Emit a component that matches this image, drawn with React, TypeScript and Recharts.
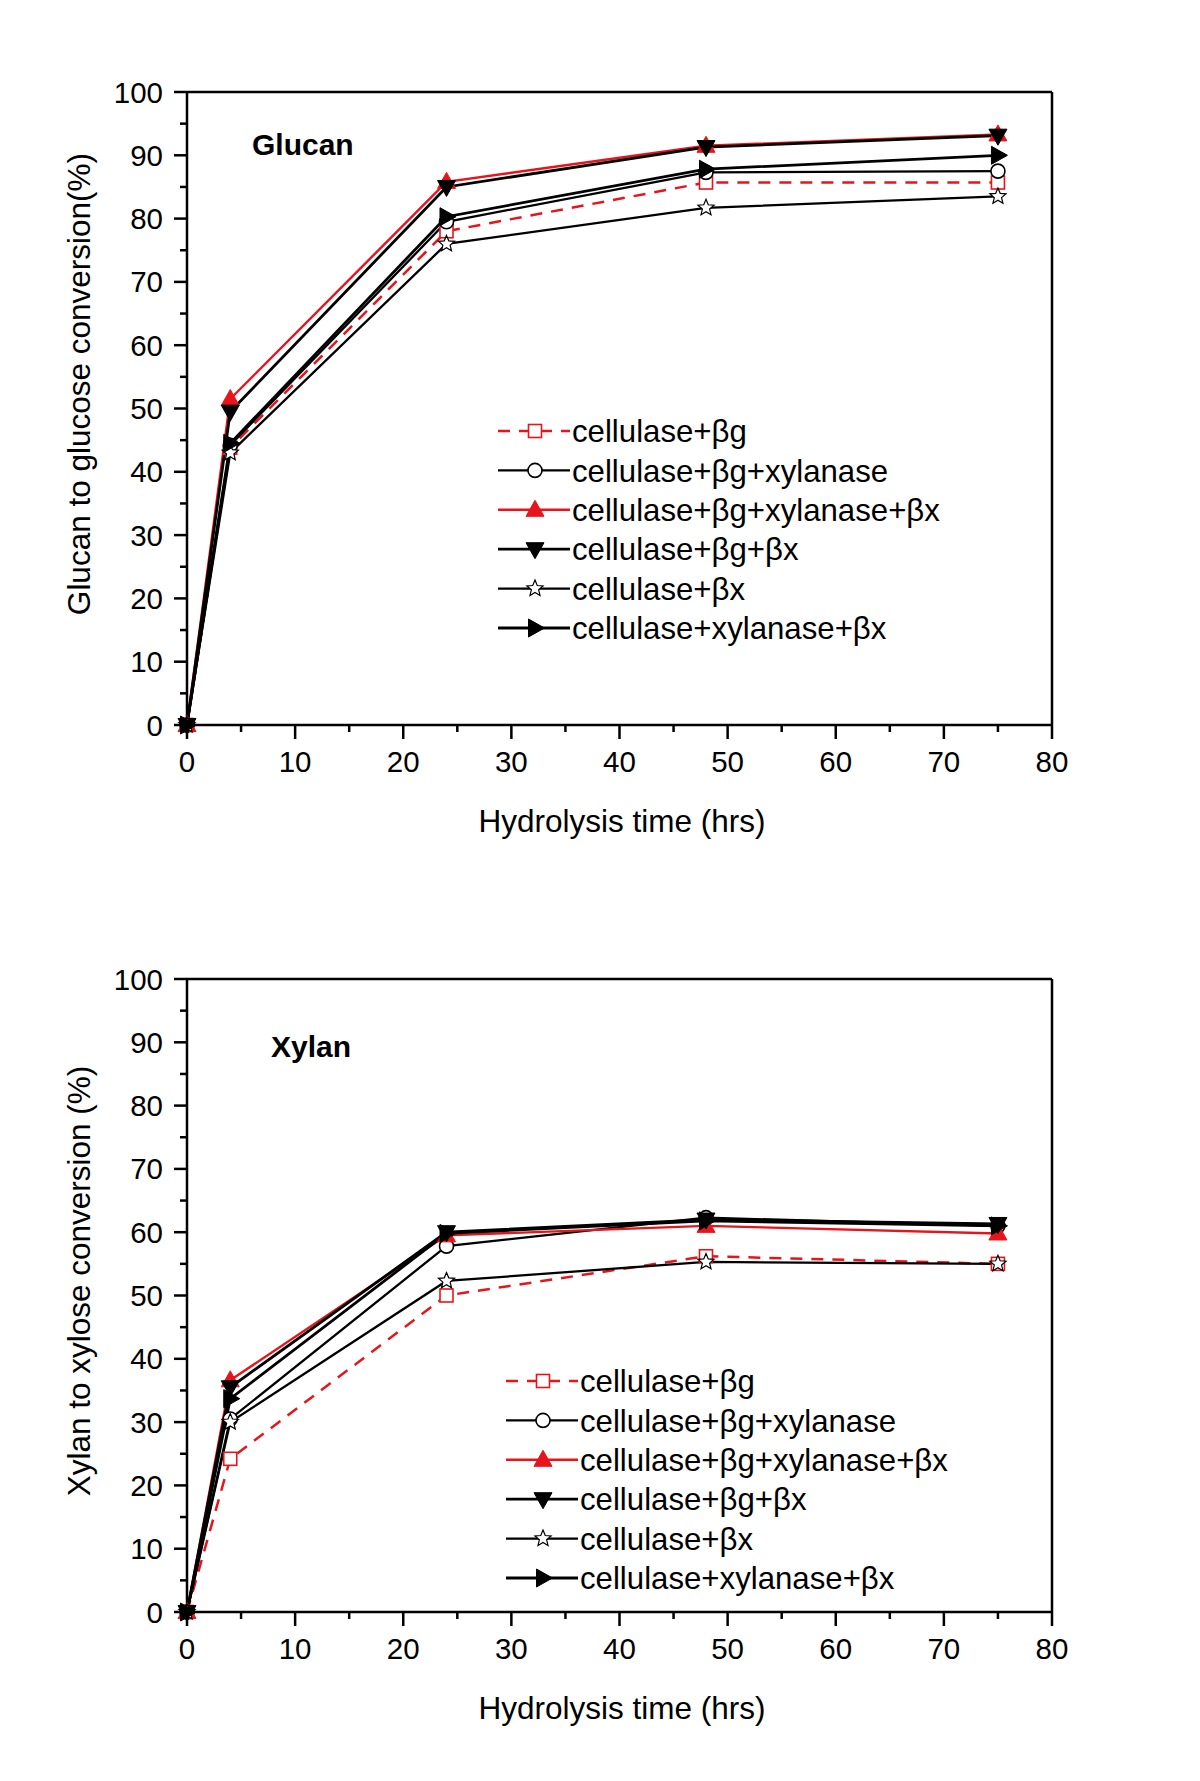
import React from 'react';
import { LineChart, Line, XAxis, YAxis, ReferenceLine, Legend } from 'recharts';

const hours = [0, 4, 24, 48, 75];
const seriesNames = [
  'cellulase+βg',
  'cellulase+βg+xylanase',
  'cellulase+βg+xylanase+βx',
  'cellulase+βg+βx',
  'cellulase+βx',
  'cellulase+xylanase+βx',
];

const glucanCelBg = [0, 43.8, 78, 85.7, 85.7];
const glucanCelBgXyl = [0, 44.2, 79.5, 87.3, 87.5];
const glucanCelBgXylBx = [0, 51.5, 85.8, 91.5, 93.3];
const glucanCelBgBx = [0, 49.5, 85.0, 91.3, 93.1];
const glucanCelBx = [0, 43.0, 76.0, 81.7, 83.5];
const glucanCelXylBx = [0, 44.5, 80.3, 87.8, 90.0];

const xylanCelBg = [0, 24.2, 50.0, 56.2, 55.0];
const xylanCelBgXyl = [0, 30.5, 57.8, 62.3, 61.0];
const xylanCelBgXylBx = [0, 36.6, 59.5, 61.0, 59.8];
const xylanCelBgBx = [0, 35.5, 60.0, 62.0, 61.3];
const xylanCelBx = [0, 30.0, 52.3, 55.3, 55.0];
const xylanCelXylBx = [0, 33.7, 59.8, 61.8, 61.0];

const yTicks = [0, 5, 10, 15, 20, 25, 30, 35, 40, 45, 50, 55, 60, 65, 70, 75, 80, 85, 90, 95, 100];
const xTicks = [0, 5, 10, 15, 20, 25, 30, 35, 40, 45, 50, 55, 60, 65, 70, 75, 80];

const FONT = '"Liberation Sans", Arial, Helvetica, sans-serif';
const RED = '#e8141c';
const BLACK = '#000';

type Style = { color: string; dash?: string; shape: string; fill: string; width: number };
const styles: Style[] = [
  { color: RED, dash: '12 9', shape: 'square', fill: '#fff', width: 2.5 },
  { color: BLACK, shape: 'circle', fill: '#fff', width: 2.3 },
  { color: RED, shape: 'up', fill: RED, width: 2.4 },
  { color: BLACK, shape: 'down', fill: BLACK, width: 2.8 },
  { color: BLACK, shape: 'star', fill: '#fff', width: 2.3 },
  { color: BLACK, shape: 'right', fill: BLACK, width: 2.8 },
];

const keys = ['s0', 's1', 's2', 's3', 's4', 's5'];

function buildRows(series: number[][]) {
  return hours.map((t, i) => {
    const row: any = { t };
    series.forEach((s, j) => {
      row[keys[j]] = s[i];
    });
    return row;
  });
}

const glucanRows = buildRows([glucanCelBg, glucanCelBgXyl, glucanCelBgXylBx, glucanCelBgBx, glucanCelBx, glucanCelXylBx]);
const xylanRows = buildRows([xylanCelBg, xylanCelBgXyl, xylanCelBgXylBx, xylanCelBgBx, xylanCelBx, xylanCelXylBx]);

function starPath(cx: number, cy: number, R: number) {
  const r = R * 0.45;
  let d = '';
  for (let i = 0; i < 10; i++) {
    const rad = i % 2 === 0 ? R : r;
    const a = -Math.PI / 2 + (i * Math.PI) / 5;
    d += (i === 0 ? 'M' : 'L') + (cx + rad * Math.cos(a)).toFixed(2) + ',' + (cy + rad * Math.sin(a)).toFixed(2);
  }
  return d + 'Z';
}

function Marker({ cx, cy, st }: { cx: number; cy: number; st: Style }) {
  const sw = 1.6;
  switch (st.shape) {
    case 'square':
      return <rect x={cx - 6.5} y={cy - 6.5} width={13} height={13} fill={st.fill} stroke={st.color} strokeWidth={sw} />;
    case 'circle':
      return <circle cx={cx} cy={cy} r={7} fill={st.fill} stroke={st.color} strokeWidth={sw} />;
    case 'up':
      return <path d={`M${cx},${cy - 9.5}L${cx + 9},${cy + 6.5}L${cx - 9},${cy + 6.5}Z`} fill={st.fill} stroke={st.color} strokeWidth={1} />;
    case 'down':
      return <path d={`M${cx},${cy + 9.5}L${cx + 9},${cy - 6.5}L${cx - 9},${cy - 6.5}Z`} fill={st.fill} stroke={st.color} strokeWidth={1} />;
    case 'right':
      return <path d={`M${cx + 9.5},${cy}L${cx - 6.5},${cy - 9}L${cx - 6.5},${cy + 9}Z`} fill={st.fill} stroke={st.color} strokeWidth={1} />;
    case 'star':
      return <path d={starPath(cx, cy, 8.5)} fill={st.fill} stroke={st.color} strokeWidth={1.2} />;
    default:
      return null;
  }
}

const makeDot = (st: Style) => (props: any) => {
  const { cx, cy, index } = props;
  if (cx == null || cy == null) return <g key={index} />;
  return (
    <g key={`d${index}`}>
      <Marker cx={cx} cy={cy} st={st} />
    </g>
  );
};

const TICK_FONT = 29.5;
const LABEL_FONT = 31.5;

const LeftTick = (props: any) => {
  const { x, y, payload } = props;
  const v = payload.value;
  const major = v % 10 === 0;
  const len = major ? 13 : 7;
  return (
    <g>
      <line x1={x} x2={x - len} y1={y} y2={y} stroke={BLACK} strokeWidth={2.5} />
      {major && (
        <text x={x - 24} y={y} dy="0.358em" textAnchor="end" fontSize={TICK_FONT} fontFamily={FONT} fill={BLACK}>
          {v}
        </text>
      )}
    </g>
  );
};

const RightTick = (props: any) => {
  const { x, y, payload } = props;
  const v = payload.value;
  const major = v % 10 === 0;
  const len = major ? 13 : 7;
  return (
    <g>
      <line x1={x} x2={x - len} y1={y} y2={y} stroke={BLACK} strokeWidth={2.5} />
      {major && (
        <text x={x + 15} y={y} dy="0.358em" textAnchor="start" fontSize={TICK_FONT} fontFamily={FONT} fill={BLACK}>
          {v}
        </text>
      )}
    </g>
  );
};

const BottomTick = (props: any) => {
  const { x, y, payload } = props;
  const v = payload.value;
  const major = v % 10 === 0;
  const len = major ? 14 : 7;
  return (
    <g>
      <line x1={x} x2={x} y1={y} y2={y + len} stroke={BLACK} strokeWidth={2.5} />
      {major && (
        <text x={x} y={y + 36} dy="0.358em" textAnchor="middle" fontSize={TICK_FONT} fontFamily={FONT} fill={BLACK}>
          {v}
        </text>
      )}
    </g>
  );
};

const LegendBox = () => (
  <svg width={500} height={250} style={{ overflow: 'visible' }}>
    {seriesNames.map((name, i) => {
      const st = styles[i];
      const y = 20 + i * 39.4;
      return (
        <g key={name}>
          <line x1={0} x2={72} y1={y} y2={y} stroke={st.color} strokeWidth={st.width} strokeDasharray={st.dash} />
          <Marker cx={37} cy={y} st={st} />
          <text x={74} y={y} dy="0.358em" fontSize={31.2} fontFamily={FONT} fill={BLACK}>
            {name}
          </text>
        </g>
      );
    })}
  </svg>
);

type PanelProps = {
  rows: any[];
  top: number;
  yLabel: string;
  yLabelCenter: number;
  note: string;
  noteTop: number;
  noteLeft: number;
  legendLeft: number;
  legendTop: number;
};

function Panel({ rows, top, yLabel, yLabelCenter, note, noteTop, noteLeft, legendLeft, legendTop }: PanelProps) {
  return (
    <div style={{ position: 'absolute', left: 0, top, width: 1200, height: 890 }}>
      <LineChart width={1200} height={890} data={rows} margin={{ top: 92, right: 88, bottom: 115, left: 127 }}>
        <XAxis
          dataKey="t"
          type="number"
          domain={[0, 80]}
          ticks={xTicks}
          interval={0}
          height={50}
          tickSize={0}
          tickMargin={0}
          tickLine={false}
          tick={<BottomTick />}
          axisLine={{ stroke: BLACK, strokeWidth: 2.5 }}
        />
        <YAxis
          yAxisId="left"
          type="number"
          domain={[0, 100]}
          ticks={yTicks}
          interval={0}
          width={60}
          tickSize={0}
          tickMargin={0}
          tickLine={false}
          tick={<LeftTick />}
          axisLine={{ stroke: BLACK, strokeWidth: 2.5 }}
        />
        <YAxis
          yAxisId="right"
          orientation="right"
          type="number"
          domain={[0, 100]}
          ticks={yTicks}
          interval={0}
          width={60}
          tickSize={0}
          tickMargin={0}
          tickLine={false}
          tick={<RightTick />}
          axisLine={{ stroke: BLACK, strokeWidth: 2.5 }}
        />
        <ReferenceLine yAxisId="left" y={100} stroke={BLACK} strokeWidth={2.5} />
        {keys.map((k, i) => (
          <Line
            key={k}
            yAxisId="left"
            type="linear"
            dataKey={k}
            name={seriesNames[i]}
            stroke={styles[i].color}
            strokeWidth={styles[i].width}
            strokeDasharray={styles[i].dash}
            dot={makeDot(styles[i])}
            activeDot={false}
            isAnimationActive={false}
          />
        ))}
        <Legend
          layout="vertical"
          align="center"
          verticalAlign="middle"
          content={<LegendBox />}
          wrapperStyle={{ left: legendLeft, top: legendTop, width: 500, height: 250 }}
        />
      </LineChart>
      <div
        style={{
          position: 'absolute',
          left: 79 - 350,
          top: yLabelCenter - 20,
          width: 700,
          height: 40,
          lineHeight: '40px',
          textAlign: 'center',
          transform: 'rotate(-90deg)',
          fontSize: LABEL_FONT,
          fontFamily: FONT,
          color: BLACK,
        }}
      >
        {yLabel}
      </div>
      <div
        style={{
          position: 'absolute',
          left: 322,
          top: 801,
          width: 600,
          height: 40,
          lineHeight: '40px',
          textAlign: 'center',
          fontSize: LABEL_FONT,
          fontFamily: FONT,
          color: BLACK,
        }}
      >
        Hydrolysis time (hrs)
      </div>
      <div
        style={{
          position: 'absolute',
          left: noteLeft,
          top: noteTop - 20,
          height: 40,
          lineHeight: '40px',
          fontSize: 30,
          fontWeight: 'bold',
          fontFamily: FONT,
          color: BLACK,
        }}
      >
        {note}
      </div>
    </div>
  );
}

export default function App() {
  return (
    <div style={{ position: 'absolute', left: 0, top: 0, width: 1200, height: 1781, background: '#fff', fontFamily: FONT }}>
      <Panel
        rows={glucanRows}
        top={0}
        yLabel="Glucan to glucose conversion(%)"
        yLabelCenter={384}
        note="Glucan"
        noteTop={145}
        noteLeft={252}
        legendLeft={498}
        legendTop={411}
      />
      <Panel
        rows={xylanRows}
        top={887}
        yLabel="Xylan to xylose conversion (%)"
        yLabelCenter={394}
        note="Xylan"
        noteTop={160}
        noteLeft={271}
        legendLeft={506}
        legendTop={474}
      />
    </div>
  );
}
